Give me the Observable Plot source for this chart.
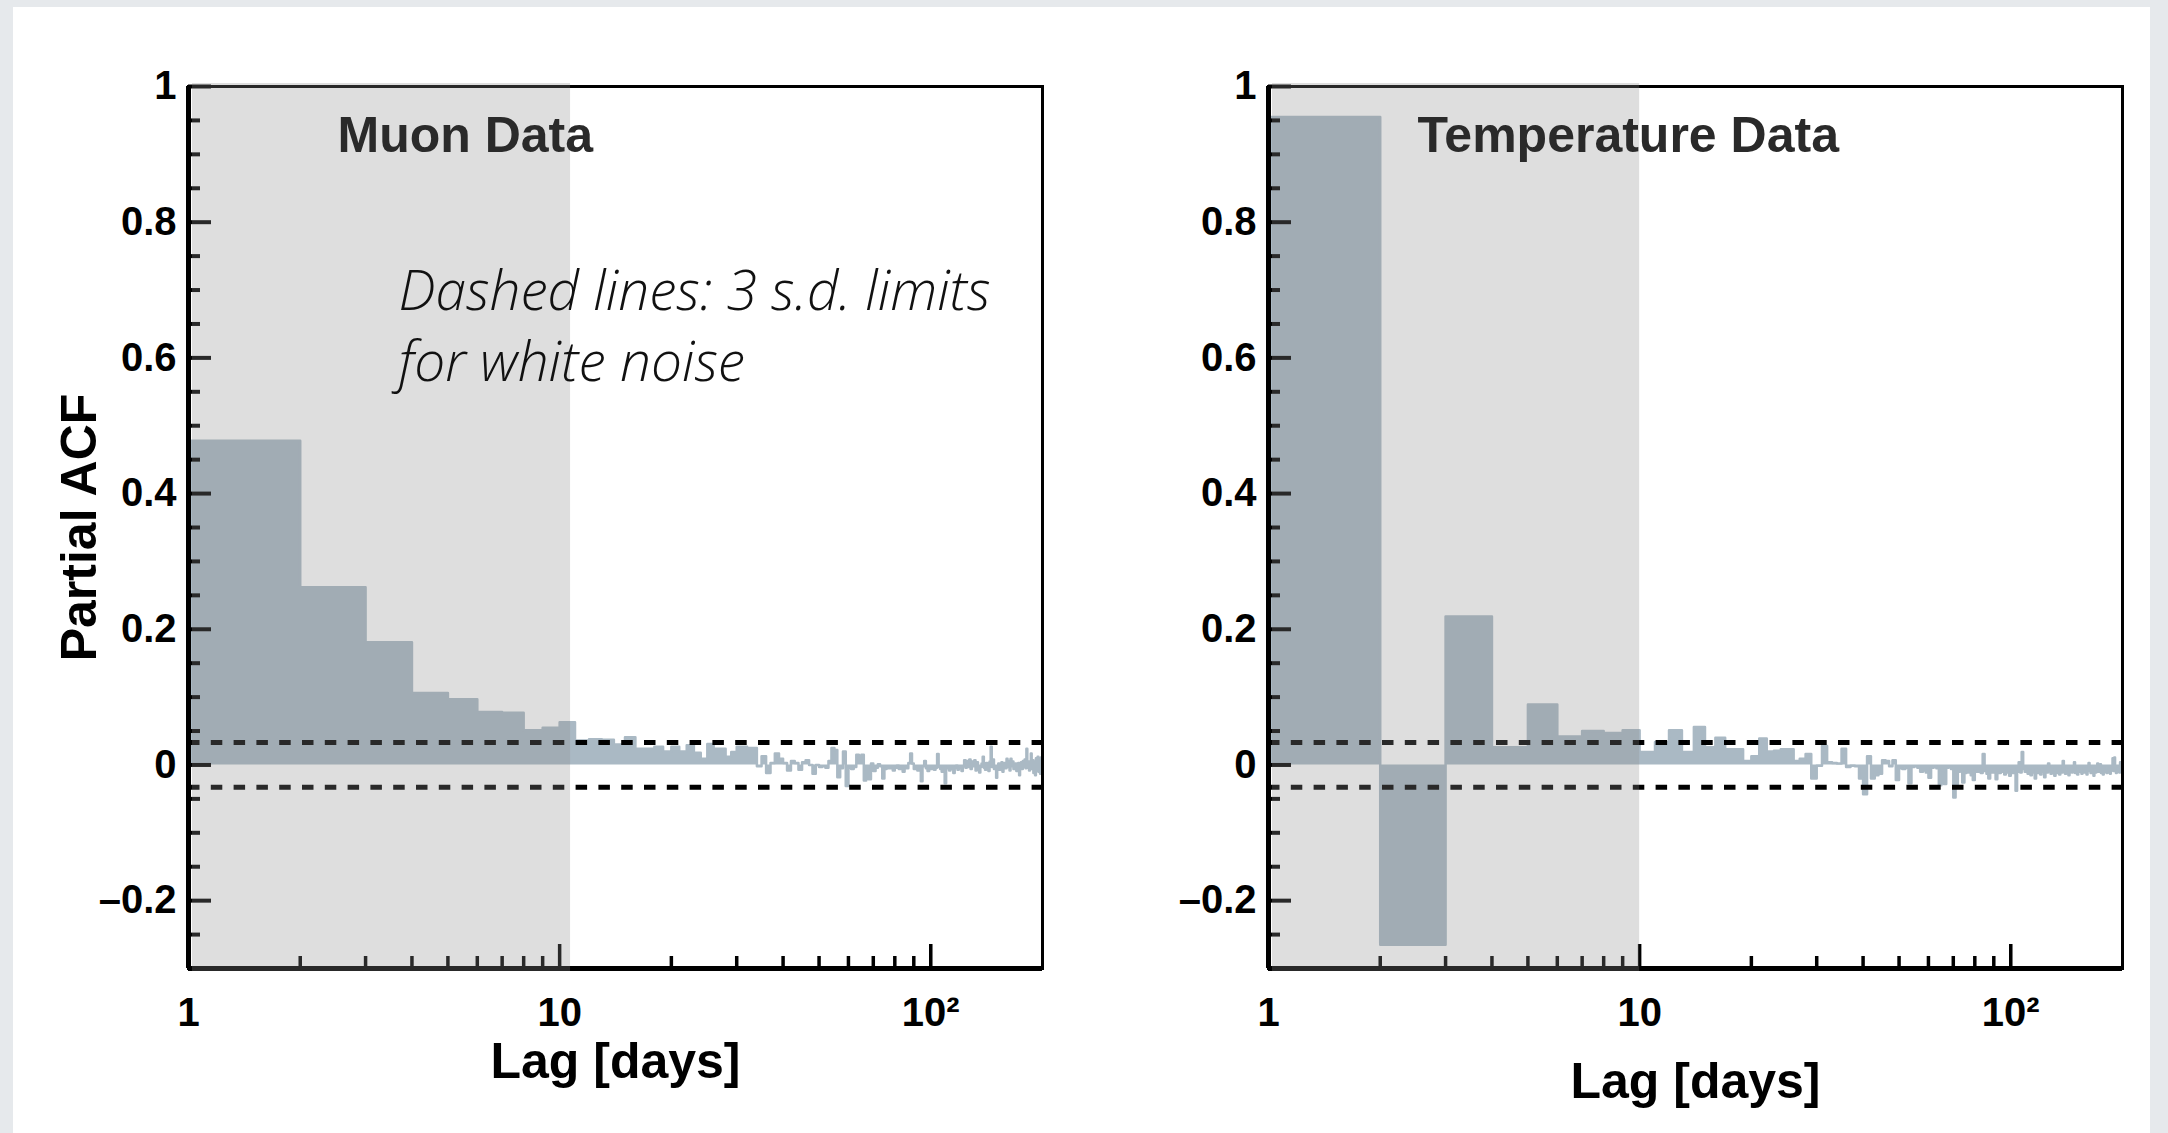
<!DOCTYPE html>
<html><head><meta charset="utf-8">
<script src="https://cdn.jsdelivr.net/npm/d3@7"></script>
<script src="https://cdn.jsdelivr.net/npm/@observablehq/plot@0.6"></script>
<style>
html,body{margin:0;padding:0;width:2168px;height:1133px;overflow:hidden;background:#e6e9ec;}
#sheet{position:absolute;left:13px;top:7px;width:2137px;height:1126px;background:#fff;}
.panel{position:absolute;top:0;}
.panel svg{overflow:visible;}
</style></head><body>
<div id="sheet"></div>
<div id="left" class="panel" style="left:0px"></div>
<div id="right" class="panel" style="left:1084px"></div>
<script>
// Partial ACF values for lag 1..199 (bin [lag, lag+1])
const muonPacf = [
0.478,0.262,0.181,0.106,0.097,0.078,0.077,0.051,0.055,0.063,
0.036,0.038,0.037,0.030,0.041,0.024,0.024,0.027,0.020,0.027,
0.020,0.029,0.018,0.009,0.031,0.024,0.024,0.012,0.019,0.027,
0.027,0.025,0.025,-0.002,0.013,-0.012,0.003,0.017,0.009,0.003,
-0.008,0.006,0.003,-0.007,0.004,0.007,0.000,-0.013,0.000,-0.003,
-0.002,-0.004,0.006,0.025,0.022,-0.018,-0.005,0.020,-0.031,-0.004,
-0.006,-0.003,0.015,0.012,0.015,-0.023,-0.010,-0.021,0.002,-0.009,
-0.004,0.001,-0.002,-0.020,-0.006,-0.003,-0.005,-0.002,-0.008,-0.004,
-0.001,-0.006,-0.003,-0.010,-0.002,-0.005,0.003,0.017,0.002,-0.006,
-0.003,-0.008,-0.004,-0.024,-0.002,0.006,-0.005,-0.009,-0.003,-0.006,
-0.002,-0.007,-0.004,0.016,-0.003,-0.006,-0.010,-0.004,-0.027,-0.005,
-0.002,-0.008,-0.003,-0.006,-0.012,-0.004,-0.001,-0.007,-0.005,-0.003,
-0.009,-0.002,0.007,-0.004,0.006,-0.003,0.008,-0.006,0.005,-0.002,
0.007,-0.008,0.004,-0.005,-0.011,-0.003,0.002,0.012,-0.004,-0.007,
0.003,-0.002,-0.009,0.005,0.027,-0.003,0.008,-0.006,-0.002,-0.019,
-0.004,0.002,-0.007,-0.003,0.004,-0.010,-0.002,0.003,-0.005,0.009,
-0.003,0.006,-0.008,0.009,-0.002,0.005,-0.006,-0.003,0.002,-0.009,
-0.004,0.003,-0.015,-0.002,0.004,-0.006,0.006,-0.003,0.008,-0.005,
0.024,-0.004,0.005,-0.008,0.003,0.017,-0.006,0.007,-0.012,0.004,
-0.015,0.010,-0.004,0.012,-0.010,0.006,-0.013,0.011,-0.005
];
const tempPacf = [
0.955,-0.265,0.219,0.026,0.089,0.042,0.050,0.047,0.051,0.019,
0.034,0.051,0.019,0.056,0.026,0.040,0.023,0.023,0.006,0.013,
0.039,0.020,0.021,0.023,0.023,0.006,0.009,0.016,-0.020,-0.001,
0.028,0.004,0.003,0.002,0.024,-0.003,-0.001,-0.002,-0.020,-0.043,
0.013,-0.020,-0.015,-0.013,0.007,0.006,-0.002,0.007,-0.022,-0.005,
-0.006,-0.004,-0.027,-0.003,-0.002,-0.004,-0.010,-0.008,-0.011,-0.019,
-0.004,-0.002,-0.005,-0.030,-0.012,-0.028,-0.004,-0.003,-0.006,-0.048,
-0.030,-0.010,-0.008,-0.026,-0.012,-0.009,-0.011,-0.015,-0.022,-0.008,
-0.010,-0.006,-0.012,0.016,-0.009,-0.013,-0.020,-0.008,-0.011,-0.007,
-0.021,-0.009,-0.012,-0.006,-0.010,-0.014,-0.008,-0.011,-0.016,-0.009,
-0.012,-0.007,-0.038,-0.010,0.004,-0.011,0.019,-0.006,-0.010,-0.004,
-0.013,-0.009,-0.015,-0.008,-0.011,-0.020,-0.007,-0.012,-0.009,-0.014,
-0.006,-0.010,-0.018,-0.008,-0.011,0.002,-0.009,-0.013,-0.007,-0.010,
-0.016,-0.008,-0.012,-0.006,-0.014,-0.009,-0.011,0.006,-0.008,-0.013,
-0.010,-0.007,-0.015,-0.009,-0.006,-0.011,-0.008,0.004,-0.012,-0.009,
-0.014,-0.007,-0.010,-0.005,-0.013,-0.008,-0.011,-0.006,-0.010,-0.014,
-0.007,0.003,-0.009,-0.012,-0.006,-0.010,-0.016,-0.008,-0.011,-0.007,
0.002,-0.010,-0.006,0.001,-0.012,-0.008,-0.014,-0.006,-0.010,-0.009,
-0.012,-0.005,-0.011,-0.007,-0.013,-0.008,-0.004,0.010,-0.009,0.011,
-0.006,-0.012,-0.008,-0.010,-0.005,-0.011,0.004,-0.009,-0.006
];
const panelTitles = ["Muon Data", "Temperature Data"];
const shadeEnds = [10.7, 10];
const noiseLimits = [0.033, -0.033];
const xDomain = [1, 200];
const yDomain = [-0.3, 1];
const xMajorTicks = [1, 10, 100];
const xTickLabels = ["1", "10", "10\u00B2"];
const xMinorTicks = [2, 3, 4, 5, 6, 7, 8, 9, 20, 30, 40, 50, 60, 70, 80, 90];
const yMajorTicks = [-0.2, 0, 0.2, 0.4, 0.6, 0.8, 1];
const yTickLabels = ["\u20130.2", "0", "0.2", "0.4", "0.6", "0.8", "1"];
const yMinorTicks = [-0.25, -0.15, -0.1, -0.05, 0.05, 0.1, 0.15, 0.25, 0.3, 0.35, 0.45, 0.5, 0.55, 0.65, 0.7, 0.75, 0.85, 0.9, 0.95];
const annotationLines = ["Dashed lines: 3 s.d. limits", "for white noise"];
const xLabel = "Lag [days]";
const yLabel = "Partial ACF";

const H = 1133, MT = 86, MB = 165;
const BAR = "#aab9c4";
const FONT = "'Liberation Sans', Arial, Helvetica, sans-serif";

function makePanel(vals, o) {
  const data = vals.map((v, i) => ({lag: i + 1, v}));
  data.push({lag: vals.length + 1, v: vals[vals.length - 1]});
  const plotH = H - MT - MB;
  const plotW = o.width - o.ml - o.mr;
  const marks = [
    Plot.areaY(data, {x: "lag", y: "v", curve: "step-after", fill: BAR}),
    Plot.lineY(data, {x: "lag", y: "v", curve: "step-after", stroke: BAR, strokeWidth: 2.5}),
    Plot.ruleY(noiseLimits, {stroke: "#000", strokeWidth: 5, strokeDasharray: "11.5,11.3"}),
    Plot.frame({stroke: "#000", strokeWidth: 3}),
    Plot.ruleX([xDomain[0]], {stroke: "#000", strokeWidth: 5}),
    Plot.ruleY([yDomain[0]], {stroke: "#000", strokeWidth: 5}),
    Plot.tickX(xMajorTicks, {insetTop: plotH - 24, stroke: "#000", strokeWidth: 3.5}),
    Plot.tickX(xMinorTicks, {insetTop: plotH - 12, stroke: "#000", strokeWidth: 3.5}),
    Plot.tickY(yMajorTicks, {insetRight: plotW - 23, stroke: "#000", strokeWidth: 4}),
    Plot.tickY(yMinorTicks, {insetRight: plotW - 12, stroke: "#000", strokeWidth: 4}),
    Plot.rect([o.shade], {x1: xDomain[0], x2: d => d, fill: "rgb(143,143,143)", fillOpacity: 0.29, insetLeft: 4, insetTop: -3, insetBottom: -3}),
    Plot.axisX(xMajorTicks, {label: null, tickSize: 0, tickPadding: 29, tickFormat: d => xTickLabels[xMajorTicks.indexOf(d)], fontSize: 40, fontWeight: "bold", fill: "#000"}),
    Plot.axisY(yMajorTicks, {label: null, tickSize: 0, tickPadding: 12, tickFormat: d => yTickLabels[yMajorTicks.indexOf(d)], fontSize: 40, fontWeight: "bold", fill: "#000"}),
    Plot.text([o.title], {frameAnchor: "top-left", dx: 149, dy: 30, lineAnchor: "top", textAnchor: "start", fontSize: 50, fontWeight: "bold", fill: "#2a2a2a"}),
    Plot.text([xLabel], {frameAnchor: "bottom", dy: o.xLabelDy, lineAnchor: "top", textAnchor: "middle", fontSize: 50, fontWeight: "bold", fill: "#000"})
  ];
  if (o.yLabel) {
    marks.push(Plot.text([yLabel], {frameAnchor: "left", dx: -109, rotate: -90, textAnchor: "middle", lineAnchor: "middle", fontSize: 50, fontWeight: "bold", fill: "#000"}));
  }
  if (o.annotation) {
    marks.push(Plot.text([annotationLines.join("\n")], {frameAnchor: "top-left", dx: 210, dy: 174, lineAnchor: "top", textAnchor: "start", lineHeight: 1.28, fontSize: 55, fontStyle: "italic", fontWeight: 300, fontFamily: "'Open Sans', Lato, sans-serif", fill: "#111"}));
  }
  return Plot.plot({
    width: o.width, height: H,
    marginLeft: o.ml, marginRight: o.mr, marginTop: MT, marginBottom: MB,
    x: {type: "log", domain: xDomain, label: null},
    y: {domain: yDomain, label: null},
    style: {fontFamily: FONT, fontWeight: "bold", fontSize: "40px", color: "#000", background: "transparent"},
    marks
  });
}

document.getElementById("left").appendChild(makePanel(muonPacf, {
  width: 1084, ml: 188, mr: 42, shade: shadeEnds[0], title: panelTitles[0], xLabelDy: 74, yLabel: true, annotation: true
}));
document.getElementById("right").appendChild(makePanel(tempPacf, {
  width: 1084, ml: 184, mr: 46, shade: shadeEnds[1], title: panelTitles[1], xLabelDy: 94, yLabel: false, annotation: false
}));
</script>
</body></html>
